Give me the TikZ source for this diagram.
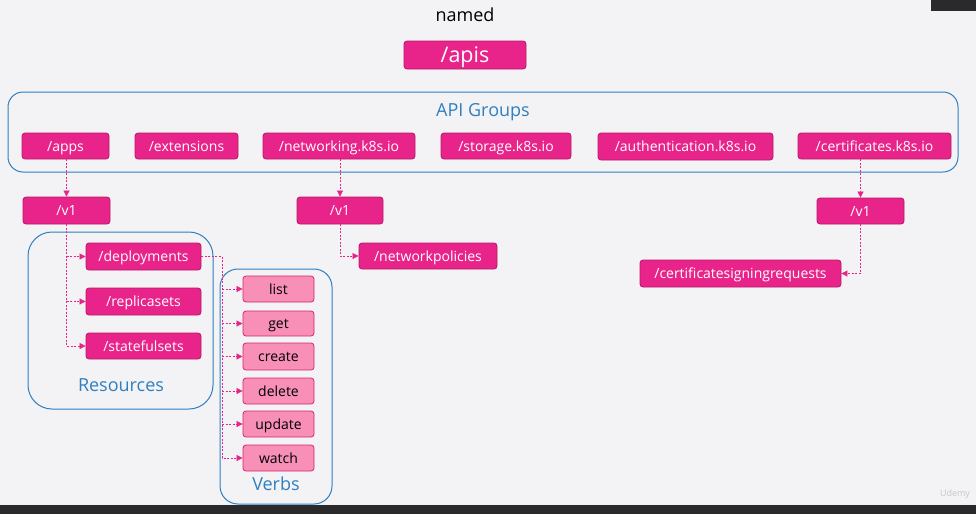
\documentclass[tikz,border=0pt]{standalone}
\usepackage{fontspec}
\setmainfont{Open Sans}
\usetikzlibrary{arrows.meta}
\definecolor{bg}{HTML}{F3F3F5}
\definecolor{mag}{HTML}{E8248A}
\definecolor{magdark}{HTML}{B8166A}
\definecolor{verbfill}{HTML}{F88FB7}
\definecolor{verbdraw}{HTML}{D8246F}
\definecolor{grpblue}{HTML}{2F7FC1}
\definecolor{darkbar}{HTML}{2A2A2C}
\tikzset{
  magbox/.style={rectangle, rounded corners=3pt, fill=mag, draw=magdark, line width=0.8pt,
    text=white, font=\fontsize{14}{16}\selectfont, inner sep=0pt, minimum height=26pt,
    text height=10pt, text depth=0pt},
  verbbox/.style={rectangle, rounded corners=3pt, fill=verbfill, draw=verbdraw, line width=0.8pt,
    text=black, font=\fontsize{14}{16}\selectfont, inner sep=0pt, minimum width=71pt, minimum height=26pt,
    text height=10pt, text depth=0pt},
  container/.style={rectangle, draw=grpblue, line width=1pt, fill=none, inner sep=0pt},
  bluelabel/.style={text=grpblue, font=\fontsize{18}{20}\selectfont, inner sep=0pt},
  link/.style={draw=mag, line width=0.7pt, dash pattern=on 2pt off 1.5pt,
    -{Triangle[length=6pt,width=6pt]}},
  plainlink/.style={draw=mag, line width=0.7pt, dash pattern=on 2pt off 1.5pt}
}
\begin{document}
\begin{tikzpicture}[x=1pt,y=-1pt]
\useasboundingbox (0,0) rectangle (976,514);
\fill[bg] (0,0) rectangle (976,514);
\fill[darkbar] (931,0) rectangle (976,11);
\fill[darkbar] (0,505) rectangle (976,514);

\node[font=\fontsize{18}{20}\selectfont, inner sep=0pt] (named) at (465,15) {named};
\node[magbox, minimum width=122pt, minimum height=28pt, font=\fontsize{21.5}{24}\selectfont,
  text height=15pt] (apis) at (465,55) {/apis};

\node[container, rounded corners=15pt, minimum width=950pt, minimum height=80pt] (groups) at (483,132) {};
\node[bluelabel] (groupslabel) at (483,112.5) {API Groups};

\node[magbox, minimum width=87pt] (apps) at (65.5,146) {/apps};
\node[magbox, minimum width=103pt] (ext) at (186.5,146) {/extensions};
\node[magbox, minimum width=152pt] (net) at (339,146) {/networking.k8s.io};
\node[magbox, minimum width=130pt] (sto) at (506,146) {/storage.k8s.io};
\node[magbox, minimum width=175pt, minimum height=27pt] (auth) at (685.5,146.5) {/authentication.k8s.io};
\node[magbox, minimum width=153pt] (cert) at (874.5,146) {/certificates.k8s.io};

\node[magbox, minimum width=87pt, minimum height=27pt] (v1a) at (66.5,210.5) {/v1};
\node[magbox, minimum width=86pt, minimum height=27pt] (v1n) at (340,210.5) {/v1};
\node[magbox, minimum width=87pt] (v1c) at (860.5,211) {/v1};

% Resources
\node[container, rounded corners=24pt, minimum width=185pt, minimum height=177pt] (resbox) at (120.5,320.5) {};
\node[bluelabel] (reslabel) at (121,385.5) {Resources};
\node[magbox, minimum width=115pt, minimum height=27pt] (dep) at (143.5,256.5) {/deployments};
\node[magbox, minimum width=115pt, minimum height=27pt] (rep) at (143.5,301.5) {/replicasets};
\node[magbox, minimum width=115pt] (sta) at (143.5,346) {/statefulsets};

% Verbs
\node[container, rounded corners=18pt, minimum width=112pt, minimum height=235pt] (verbbox) at (276,386.5) {};
\node[bluelabel] (verblabel) at (276,483.5) {Verbs};
\node[verbbox] (list) at (278.5,289) {list};
\node[verbbox, minimum height=25pt] (get) at (278.5,323.5) {get};
\node[verbbox, minimum height=27pt] (create) at (278.5,356.5) {create};
\node[verbbox] (delete) at (278.5,391) {delete};
\node[verbbox] (update) at (278.5,424) {update};
\node[verbbox] (watch) at (278.5,458) {watch};

\node[magbox, minimum width=138pt] (np) at (428,256) {/networkpolicies};
\node[magbox, minimum width=201pt, minimum height=27pt] (csr) at (740.5,273.5) {/certificatesigningrequests};

\node[text=black!22, font=\fontsize{9}{10}\selectfont, inner sep=0pt] (udemy) at (955,494) {Udemy};

% connectors
\draw[link] (apps.south -| v1a.north) -- (v1a.north);
\draw[link] (net.south -| v1n.north) -- (v1n.north);
\draw[link] (cert.south -| v1c.north) -- (v1c.north);

\draw[link] (v1a.south) |- (sta.west);
\draw[link] (v1a.south |- dep.west) -- (dep.west);
\draw[link] (v1a.south |- rep.west) -- (rep.west);

\coordinate (vt) at (222,256.5);
\draw[plainlink] (dep.east) -- (vt);
\draw[link] (vt) |- (watch.west);
\draw[link] (vt |- list.west) -- (list.west);
\draw[link] (vt |- get.west) -- (get.west);
\draw[link] (vt |- create.west) -- (create.west);
\draw[link] (vt |- delete.west) -- (delete.west);
\draw[link] (vt |- update.west) -- (update.west);

\draw[link] (v1n.south) |- (np.west);
\draw[link] (v1c.south) |- (csr.east);
\end{tikzpicture}
\end{document}
